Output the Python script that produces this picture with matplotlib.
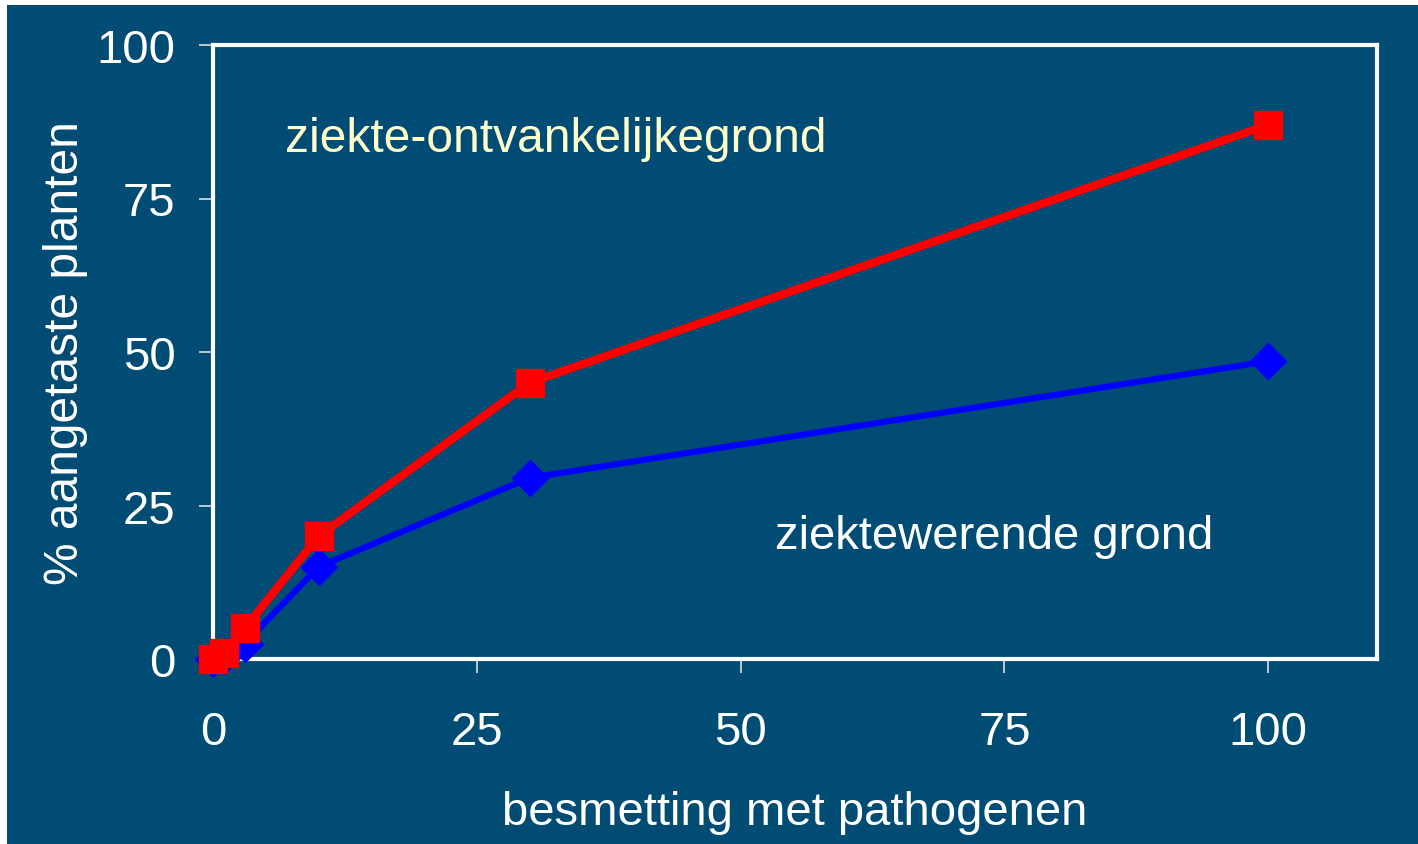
import matplotlib
matplotlib.use("Agg")
import matplotlib.pyplot as plt
from matplotlib.patches import Rectangle

plt.rcParams['font.family'] = ['Liberation Sans', 'DejaVu Sans']

x_vals = [0, 1, 3, 10, 30, 100]
ziektewerend = [0, 0.5, 2.5, 15, 29.5, 48.5]
ontvankelijk = [0, 1, 5, 20, 45, 87]
x_ticks = [0, 25, 50, 75, 100]
y_ticks = [0, 25, 50, 75, 100]

BG = '#004C75'
fig = plt.figure(figsize=(14.18, 8.45), dpi=100, facecolor='white')
fig.patches.append(Rectangle((7/1418, -0.05), 1.1, 1.05 - 6/845, transform=fig.transFigure,
                             facecolor=BG, edgecolor='none', zorder=-10))

ax = fig.add_axes([213/1418, 1 - 660/845, (1377 - 213)/1418, (660 - 46)/845])
ax.set_facecolor(BG)
ax.plot(x_vals, ziektewerend, color='#0000FF', lw=4.5, marker='D', markersize=18,
        clip_on=False, zorder=3)
ax.plot(x_vals, ontvankelijk, color='#FF0000', lw=6, marker='s', markersize=20,
        clip_on=False, zorder=4)

ax.set_xlim(0, 110.3)
ax.set_ylim(0, 100)
ax.set_xticks(x_ticks)
ax.set_yticks(y_ticks)
for s in ax.spines.values():
    s.set_color('white')
    s.set_linewidth(3)
ax.tick_params(colors='#DDDDDD', direction='out', length=10, width=1.2,
               labelsize=34, labelcolor='white')
ax.tick_params(axis='x', pad=27)
ax.tick_params(axis='y', pad=17)

ax.set_xlabel('besmetting met pathogenen', color='white', fontsize=34, labelpad=26)
ax.set_ylabel('% aangetaste planten', color='white', fontsize=34.5, labelpad=6)

ax.text(6.8, 84.7, 'ziekte-ontvankelijkegrond', color='#FFFFCC', fontsize=34.5,
        va='center', ha='left')
ax.text(53.3, 20, 'ziektewerende grond', color='white', fontsize=34,
        va='center', ha='left')

fig.savefig('out.png', dpi=100, facecolor=fig.get_facecolor())
